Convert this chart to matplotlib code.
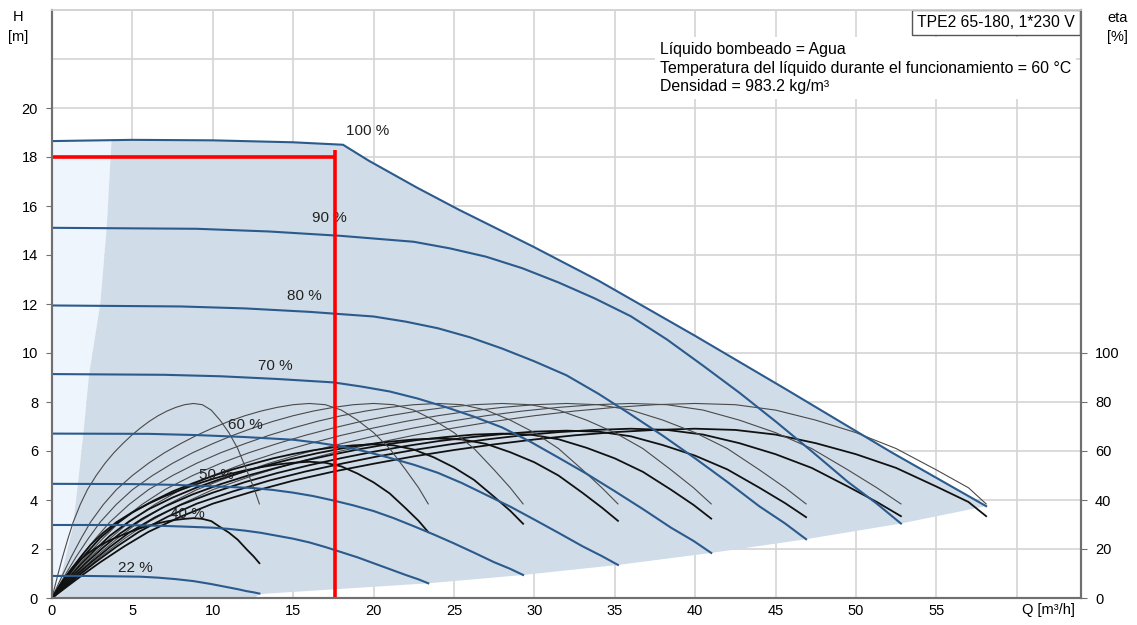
import numpy as np
import matplotlib
matplotlib.use("Agg")
import matplotlib.pyplot as plt

plt.rcParams['font.family'] = ['Liberation Sans', 'DejaVu Sans']

# ---- pump curves H [m] vs Q [m3/h], one per speed ----
speeds = ["100 %", "90 %", "80 %", "70 %", "60 %", "50 %", "40 %", "22 %"]

q_100 = [0, 5, 10, 15, 18.1, 19.7, 22.7, 25.3, 29.9, 34, 40, 45.7, 52.2, 58.1]
h_100 = [18.65, 18.7, 18.68, 18.6, 18.5, 17.85, 16.75, 15.85, 14.35, 12.95, 10.7, 8.5, 5.95, 3.75]
q_90 = [0, 9, 13.5, 18, 22.5, 24.75, 27, 29.25, 31.5, 33.75, 36, 38.25, 40.5, 42.75, 45, 47.25, 49.5, 51.3, 52.8]
h_90 = [15.11, 15.07, 14.96, 14.78, 14.54, 14.27, 13.93, 13.46, 12.88, 12.23, 11.5, 10.55, 9.48, 8.38, 7.21, 5.99, 4.74, 3.85, 3.04]
q_80 = [0, 8, 12, 16, 20, 22, 24, 26, 28, 30, 32, 34, 36, 38, 40, 42, 44, 45.6, 46.9]
h_80 = [11.94, 11.9, 11.82, 11.68, 11.49, 11.28, 11.01, 10.64, 10.18, 9.66, 9.09, 8.33, 7.49, 6.62, 5.7, 4.74, 3.74, 3.04, 2.4]
q_70 = [0, 7, 10.5, 14, 17.5, 19.25, 21, 22.75, 24.5, 26.25, 28, 29.75, 31.5, 33.25, 35, 36.75, 38.5, 39.9, 41.0]
h_70 = [9.14, 9.11, 9.05, 8.94, 8.8, 8.63, 8.43, 8.14, 7.79, 7.4, 6.96, 6.38, 5.73, 5.07, 4.36, 3.63, 2.87, 2.33, 1.84]
q_60 = [0, 6, 9, 12, 15, 16.5, 18, 19.5, 21, 22.5, 24, 25.5, 27, 28.5, 30, 31.5, 33, 34.2, 35.2]
h_60 = [6.71, 6.7, 6.65, 6.57, 6.46, 6.34, 6.19, 5.98, 5.72, 5.44, 5.11, 4.69, 4.21, 3.73, 3.2, 2.66, 2.11, 1.71, 1.35]
q_50 = [0, 5, 7.5, 10, 12.5, 13.75, 15, 16.25, 17.5, 18.75, 20, 21.25, 22.5, 23.75, 25, 26.25, 27.5, 28.5, 29.3]
h_50 = [4.66, 4.65, 4.62, 4.56, 4.49, 4.41, 4.3, 4.16, 3.98, 3.78, 3.55, 3.26, 2.93, 2.59, 2.23, 1.85, 1.46, 1.19, 0.94]
q_40 = [0, 4, 6, 8, 10, 11, 12, 13, 14, 15, 16, 17, 18, 19, 20, 21, 22, 22.8, 23.4]
h_40 = [2.98, 2.98, 2.96, 2.92, 2.87, 2.82, 2.75, 2.66, 2.54, 2.42, 2.27, 2.08, 1.87, 1.66, 1.42, 1.18, 0.94, 0.76, 0.6]
q_22 = [0, 2.2, 3.3, 4.4, 5.5, 6.05, 6.6, 7.15, 7.7, 8.25, 8.8, 9.35, 9.9, 10.45, 11, 11.55, 12.1, 12.55, 12.9]
h_22 = [0.9, 0.9, 0.89, 0.88, 0.87, 0.85, 0.83, 0.8, 0.77, 0.73, 0.69, 0.63, 0.57, 0.5, 0.43, 0.36, 0.28, 0.23, 0.18]

# ---- efficiency curves eta [%] (thin = pump, thick = total) ----
eq_100 = [0, 1, 2, 3, 4.5, 6, 8, 10, 12.5, 15, 17.5, 20, 22.5, 25, 27.5, 30, 32.5, 35, 37.5, 40,
          42.5, 45, 47.5, 50, 52.5, 55, 57, 58.1]
eq_90 = [0, 0.9, 1.8, 2.7, 4.05, 5.4, 7.2, 9, 11.25, 13.5, 15.75, 18, 20.25, 22.5, 24.75, 27, 29.25,
         31.5, 33.75, 36, 38.25, 40.5, 42.75, 45, 47.25, 49.5, 51.3, 52.8]
eq_80 = [0, 0.8, 1.6, 2.4, 3.6, 4.8, 6.4, 8, 10, 12, 14, 16, 18, 20, 22, 24, 26, 28, 30, 32, 34, 36,
         38, 40, 42, 44, 45.6, 46.9]
eq_70 = [0, 0.7, 1.4, 2.1, 3.15, 4.2, 5.6, 7, 8.75, 10.5, 12.25, 14, 15.75, 17.5, 19.25, 21, 22.75,
         24.5, 26.25, 28, 29.75, 31.5, 33.25, 35, 36.75, 38.5, 39.9, 41.0]
eq_60 = [0, 0.6, 1.2, 1.8, 2.7, 3.6, 4.8, 6, 7.5, 9, 10.5, 12, 13.5, 15, 16.5, 18, 19.5, 21, 22.5, 24,
         25.5, 27, 28.5, 30, 31.5, 33, 34.2, 35.2]
eq_50 = [0, 0.5, 1, 1.5, 2.25, 3, 4, 5, 6.25, 7.5, 8.75, 10, 11.25, 12.5, 13.75, 15, 16.25, 17.5,
         18.75, 20, 21.25, 22.5, 23.75, 25, 26.25, 27.5, 28.5, 29.3]
eq_40 = [0, 0.4, 0.8, 1.2, 1.8, 2.4, 3.2, 4, 5, 6, 7, 8, 9, 10, 11, 12, 13, 14, 15, 16, 17, 18, 19,
         20, 21, 22, 22.8, 23.4]
eq_22 = [0, 0.22, 0.44, 0.66, 0.99, 1.32, 1.76, 2.2, 2.75, 3.3, 3.85, 4.4, 4.95, 5.5, 6.05, 6.6, 7.15,
         7.7, 8.25, 8.8, 9.35, 9.9, 10.45, 11, 11.55, 12.1, 12.55, 12.9]

eta_pump = [0, 5.8, 11.4, 16.8, 24.2, 31, 38.2, 44.2, 50, 55, 59.3, 63, 66.4, 69.4, 72.1, 74.4, 76.3,
            77.8, 78.9, 79.4, 78.9, 76.7, 72.6, 67.5, 61.0, 52.3, 45.0, 38.4]

eta_tot_100 = [0, 5.0, 9.9, 14.6, 21.1, 27.0, 33.2, 38.5, 43.5, 47.9, 51.6, 54.8, 57.8, 60.4, 62.7, 64.7,
               66.4, 67.7, 68.6, 69.1, 68.6, 66.7, 63.2, 58.7, 53.1, 45.5, 39.2, 33.4]
eta_tot_90 = [0, 5.0, 9.9, 14.6, 21.1, 27.0, 33.2, 38.5, 43.5, 47.9, 51.6, 54.8, 57.8, 60.4, 62.7, 64.7,
              66.4, 67.7, 68.6, 69.1, 68.6, 66.7, 63.2, 58.7, 53.1, 45.5, 39.2, 33.4]
eta_tot_80 = [0, 5.0, 9.8, 14.4, 20.8, 26.7, 32.9, 38.0, 43.0, 47.3, 51.0, 54.2, 57.1, 59.7, 62.0, 64.0,
              65.6, 66.9, 67.9, 68.3, 67.9, 66.0, 62.4, 58.1, 52.5, 45.0, 38.7, 33.0]
eta_tot_70 = [0, 4.9, 9.6, 14.2, 20.4, 26.2, 32.3, 37.3, 42.3, 46.5, 50.1, 53.2, 56.1, 58.6, 60.9, 62.9,
              64.5, 65.7, 66.7, 67.1, 66.7, 64.8, 61.3, 57.0, 51.5, 44.2, 38.0, 32.4]
eta_tot_60 = [0, 4.8, 9.3, 13.8, 19.8, 25.4, 31.3, 36.2, 41.0, 45.1, 48.6, 51.7, 54.4, 56.9, 59.1, 61.0,
              62.6, 63.8, 64.7, 65.1, 64.7, 62.9, 59.5, 55.4, 50.0, 42.9, 36.9, 31.5]
eta_tot_50 = [0, 4.6, 9.0, 13.3, 19.1, 24.5, 30.2, 34.9, 39.5, 43.5, 46.8, 49.8, 52.5, 54.8, 57.0, 58.8,
              60.3, 61.5, 62.3, 62.7, 62.3, 60.6, 57.4, 53.3, 48.2, 41.3, 35.6, 30.3]
eta_tot_40 = [0, 4.1, 8.0, 11.8, 16.9, 21.7, 26.7, 30.9, 35.0, 38.5, 41.5, 44.1, 46.5, 48.6, 50.5, 52.1,
              53.4, 54.5, 55.2, 55.6, 55.2, 53.7, 50.8, 47.2, 42.7, 36.6, 31.5, 26.9]
eta_tot_22 = [0, 2.4, 4.7, 6.9, 9.9, 12.7, 15.7, 18.1, 20.5, 22.6, 24.3, 25.8, 27.2, 28.5, 29.6, 30.5,
              31.3, 31.9, 32.3, 32.6, 32.3, 31.4, 29.0, 26.7, 23.8, 19.9, 16.9, 14.2]

# ---- operating range shading ----
left_q = [0.1, 0.6, 1.3, 1.6, 1.95, 2.3, 3.0, 3.4, 3.7]
left_h = [0, 1, 2.9, 4.6, 6.7, 9.1, 12, 15.1, 18.65]
bottom_q = [58.1, 52.8, 46.9, 41.0, 35.2, 29.3, 23.4, 12.9, 12.6]
bottom_h = [3.75, 3.04, 2.4, 1.84, 1.35, 0.94, 0.6, 0.16, 0]

# duty point
duty_q = 17.6
duty_h = 18.0

label_q = [18.3, 16.15, 14.6, 12.8, 10.93, 9.13, 7.33, 4.1]
label_h = [19.05, 15.5, 12.33, 9.47, 7.06, 5.02, 3.43, 1.22]

curves_h = [(q_100, h_100), (q_90, h_90), (q_80, h_80), (q_70, h_70),
            (q_60, h_60), (q_50, h_50), (q_40, h_40), (q_22, h_22)]
curves_eq = [eq_100, eq_90, eq_80, eq_70, eq_60, eq_50, eq_40, eq_22]
curves_tot = [eta_tot_100, eta_tot_90, eta_tot_80, eta_tot_70,
              eta_tot_60, eta_tot_50, eta_tot_40, eta_tot_22]

fig = plt.figure(figsize=(11.37, 6.25), dpi=100)
ax = fig.add_axes([52/1137, 27/625, 1029/1137, 588/625])
ax2 = ax.twinx()

ax.set_xlim(0, 64)
ax.set_ylim(0, 24)
ax2.set_ylim(0, 240)

grid_c = '#d4d4d4'
for x in range(5, 64, 5):
    ax.axvline(x, color=grid_c, lw=1.2, zorder=0)
for y in range(2, 25, 2):
    ax.axhline(y, color=grid_c, lw=1.2, zorder=0)

# shaded areas
light_q = [0] + left_q + [0]
light_h = [0] + left_h + [18.65]
ax.fill(light_q, light_h, color='#eef5fc', lw=0, zorder=1)

top_q = [q for q in q_100 if q >= 3.7]
top_h = [h for q, h in zip(q_100, h_100) if q >= 3.7]
dark_q = left_q + top_q + bottom_q
dark_h = left_h + top_h + bottom_h
ax.fill(dark_q, dark_h, color='#d0dce8', lw=0, zorder=1)

# efficiency curves on the eta scale
for eq, et in zip(curves_eq, curves_tot):
    ax.plot(eq, eta_pump, color='#4a4a4a', lw=0.8, transform=ax2.transData, zorder=3)
    ax.plot(eq, et, color='#111111', lw=1.3, transform=ax2.transData, zorder=3)

# H curves
for (q, h) in curves_h:
    ax.plot(q, h, color='#2b5a8c', lw=1.5, zorder=4)

for s, x, y in zip(speeds, label_q, label_h):
    ax.text(x, y, s, fontsize=11, color='#222222', va='center', ha='left', zorder=5)

# duty point lines
ax.plot([0, duty_q], [duty_h, duty_h], color='#ff0000', lw=2.6, zorder=6, solid_capstyle='butt')
ax.plot([duty_q, duty_q], [18.3, 0], color='#ff0000', lw=2.6, zorder=6, solid_capstyle='butt')

# axes styling
ax.set_xticks(range(0, 60, 5))
ax.set_yticks(range(0, 21, 2))
ax2.set_yticks(range(0, 101, 20))
ax.tick_params(axis='x', length=0, labelsize=10.5, pad=4)
ax.tick_params(axis='y', length=4, color='#707070', labelsize=10.5, pad=6)
ax2.tick_params(axis='y', length=4, color='#707070', labelsize=10.5, pad=6)
for a in (ax, ax2):
    for side in ('left', 'right', 'bottom'):
        a.spines[side].set_color('#707070')
        a.spines[side].set_linewidth(1.5)
    a.spines['top'].set_color(grid_c)
    a.spines['top'].set_linewidth(1.2)

ax.text(63.6, -0.2, 'Q [m³/h]', fontsize=10.5, ha='right', va='top')
fig.text(18/1137, 1 - 17/625, 'H', fontsize=10.5, ha='center', va='center')
fig.text(18/1137, 1 - 37/625, '[m]', fontsize=10.5, ha='center', va='center')
fig.text(1118/1137, 1 - 18/625, 'eta', fontsize=10.5, ha='center', va='center')
fig.text(1117/1137, 1 - 37/625, '[%]', fontsize=10.5, ha='center', va='center')

ax.text(0.591, (598 - 68) / 588,
        'Líquido bombeado = Agua\n'
        'Temperatura del líquido durante el funcionamiento = 60 °C\n'
        'Densidad = 983.2 kg/m³',
        transform=ax.transAxes, fontsize=11.4, ha='left', va='center', linespacing=1.33,
        bbox=dict(boxstyle='square,pad=0.3', facecolor='white', edgecolor='none'), zorder=7)
ax.text(0.994, (598 - 22.5) / 588, 'TPE2 65-180, 1*230 V', transform=ax.transAxes, fontsize=11.3,
        ha='right', va='center',
        bbox=dict(boxstyle='square,pad=0.3', facecolor='white', edgecolor='#555555', lw=1),
        zorder=8)

fig.savefig('out.png', dpi=100)
